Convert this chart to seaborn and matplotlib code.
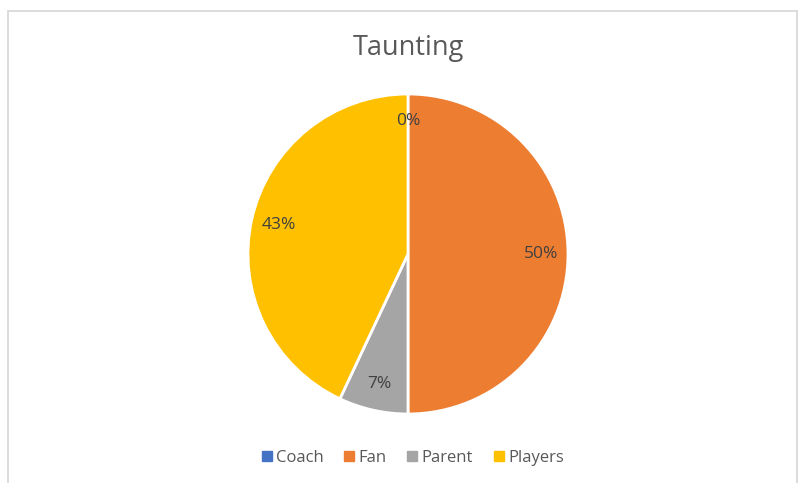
import matplotlib
matplotlib.use("Agg")
import matplotlib.pyplot as plt
from matplotlib.patches import Rectangle
from matplotlib.lines import Line2D
import seaborn as sns

categories = ["Coach", "Fan", "Parent", "Players"]
shares = [0, 50, 7, 43]
colors = ["#4472C4", "#ED7D31", "#A5A5A5", "#FFC000"]

sns.set_theme(style="white")
plt.rcParams["font.family"] = ["Open Sans", "DejaVu Sans"]

W, H = 798, 483
fig = plt.figure(figsize=(W / 100, H / 100), dpi=100)
fig.patch.set_facecolor("white")

# chart area border (open at the bottom edge)
fig.add_artist(Rectangle((8 / W, -0.05), (797 - 8) / W, (H - 11) / H + 0.05,
                         transform=fig.transFigure, fill=False,
                         edgecolor="#D9D9D9", linewidth=1.3))

cx, cy, r = 408, 254, 160
ax = fig.add_axes([(cx - r) / W, (H - cy - r) / H, 2 * r / W, 2 * r / H])
palette = sns.color_palette(colors)
wedges, texts, autotexts = ax.pie(
    shares, colors=palette, startangle=90, counterclock=False,
    autopct="%1.0f%%", pctdistance=0.83,
    wedgeprops=dict(edgecolor="white", linewidth=2),
    textprops=dict(color="#404040", fontsize=12.5),
)
ax.set_xlim(-1, 1)
ax.set_ylim(-1, 1)
ax.set_aspect("equal")
ax.axis("off")

fig.text(cx / W, 1 - 48 / H, "Taunting", ha="center", va="center",
         fontsize=19.5, color="#595959")

handles = [Line2D([0], [0], marker="s", linestyle="", markersize=6.5,
                  markerfacecolor=c, markeredgecolor=c) for c in palette]
fig.legend(handles, categories, loc="center", bbox_to_anchor=(411 / W, 1 - 458 / H),
           ncol=4, frameon=False, fontsize=12, labelcolor="#595959",
           handletextpad=0.05, columnspacing=1.05, handlelength=1.0)

fig.savefig("out.png", dpi=100, facecolor="white")
